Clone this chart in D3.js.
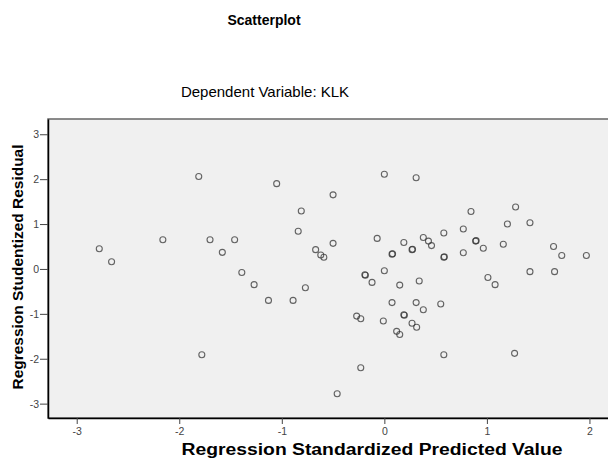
<!DOCTYPE html>
<html>
<head>
<meta charset="utf-8">
<script src="https://cdn.jsdelivr.net/npm/d3@7"></script>
<style>
  body { margin: 0; background: #fff; }
  svg { display: block; font-family: Arial, "Liberation Sans", sans-serif; }
</style>
</head>
<body>
<div id="chart"></div>
<script>
// values
var predicted = [-2.78, -2.66, -2.16, -1.81, -1.78, -1.70, -1.58, -1.46, -1.39, -1.27,
    -1.13, -1.05, -0.89, -0.84, -0.81, -0.77, -0.67, -0.62, -0.59, -0.50,
    -0.50, -0.46, -0.27, -0.23, -0.23, -0.19, -0.185, -0.12, -0.07, 0.00,
    0.00, -0.01, 0.075, 0.08, 0.075, 0.12, 0.15, 0.15, 0.19, 0.19,
    0.195, 0.27, 0.275, 0.27, 0.31, 0.31, 0.315, 0.34, 0.38, 0.38,
    0.43, 0.46, 0.55, 0.58, 0.58, 0.585, 0.58, 0.77, 0.77, 0.845,
    0.89, 0.895, 0.965, 1.01, 1.08, 1.16, 1.20, 1.27, 1.28, 1.42,
    1.42, 1.65, 1.66, 1.73, 1.97];
var residual = [0.45, 0.16, 0.65, 2.06, -1.91, 0.65, 0.37, 0.65, -0.08, -0.35,
    -0.70, 1.90, -0.70, 0.84, 1.29, -0.42, 0.43, 0.31, 0.26, 1.65,
    0.57, -2.78, -1.05, -1.11, -2.20, -0.13, -0.14, -0.30, 0.68, 2.11,
    -0.04, -1.16, 0.33, 0.34, -0.75, -1.39, -0.36, -1.46, 0.59, -1.02,
    -1.03, 0.43, 0.44, -1.21, 2.03, -0.75, -1.30, -0.27, 0.70, -0.91,
    0.62, 0.52, -0.78, 0.80, 0.26, 0.27, -1.91, 0.89, 0.36, 1.28,
    0.62, 0.63, 0.46, -0.19, -0.35, 0.55, 1.00, -1.88, 1.38, 1.03,
    -0.06, 0.50, -0.06, 0.30, 0.30];
var xTicks = [-3, -2, -1, 0, 1, 2];
var yTicks = [-3, -2, -1, 0, 1, 2, 3];

var width = 608, height = 463;
var margin = { top: 119, right: -4, bottom: 45, left: 48 };

var svg = d3.select('#chart')
    .append('svg')
    .attr('width', width)
    .attr('height', height);

var x = d3.scaleLinear()
    .domain([-3.28, 2.22])
    .range([margin.left, width - margin.right]);

var y = d3.scaleLinear()
    .domain([-3.32, 3.34])
    .range([height - margin.bottom, margin.top]);

// plot background
svg.append('rect')
    .attr('x', margin.left)
    .attr('y', margin.top)
    .attr('width', width - margin.right - margin.left)
    .attr('height', height - margin.bottom - margin.top)
    .attr('fill', '#f0f0f0')
    .attr('stroke', '#666')
    .attr('stroke-width', 1.5);

// titles
svg.append('text')
    .attr('x', 264)
    .attr('y', 25)
    .attr('text-anchor', 'middle')
    .style('font-size', '14px')
    .style('font-weight', 'bold')
    .text('Scatterplot');

svg.append('text')
    .attr('x', 265)
    .attr('y', 97)
    .attr('text-anchor', 'middle')
    .style('font-size', '15px')
    .text('Dependent Variable: KLK');

// axes
var fmt = function (d) { return String(d); };

var xAxis = svg.append('g')
    .attr('transform', 'translate(0,' + (height - margin.bottom) + ')')
    .call(d3.axisBottom(x).tickValues(xTicks).tickFormat(fmt)
        .tickSize(6).tickSizeOuter(0).tickPadding(4));

var yAxis = svg.append('g')
    .attr('transform', 'translate(' + margin.left + ',0)')
    .call(d3.axisLeft(y).tickValues(yTicks).tickFormat(fmt)
        .tickSize(8).tickSizeOuter(0).tickPadding(1));

[xAxis, yAxis].forEach(function (g) {
    g.select('.domain').attr('stroke', '#000').attr('stroke-width', 1.5);
    g.selectAll('.tick line').attr('stroke', '#444');
    g.selectAll('.tick text')
        .attr('fill', '#444')
        .style('font-size', '10.5px')
        .style('font-family', 'Arial, "Liberation Sans", sans-serif');
});

svg.append('text')
    .attr('x', 372)
    .attr('y', 455)
    .attr('text-anchor', 'middle')
    .attr('textLength', 381)
    .attr('lengthAdjust', 'spacingAndGlyphs')
    .style('font-size', '16px')
    .style('font-weight', 'bold')
    .text('Regression Standardized Predicted Value');

svg.append('text')
    .attr('transform', 'translate(23,267) rotate(-90)')
    .attr('text-anchor', 'middle')
    .attr('textLength', 245)
    .attr('lengthAdjust', 'spacingAndGlyphs')
    .style('font-size', '15.5px')
    .style('font-weight', 'bold')
    .text('Regression Studentized Residual');

// points
svg.append('g')
    .selectAll('circle')
    .data(predicted.map(function (d, i) { return [d, residual[i]]; }))
    .join('circle')
    .attr('cx', function (d) { return x(d[0]); })
    .attr('cy', function (d) { return y(d[1]); })
    .attr('r', 3)
    .attr('fill', 'none')
    .attr('stroke', '#333')
    .attr('stroke-opacity', 0.75)
    .attr('stroke-width', 1.1);
</script>
</body>
</html>
